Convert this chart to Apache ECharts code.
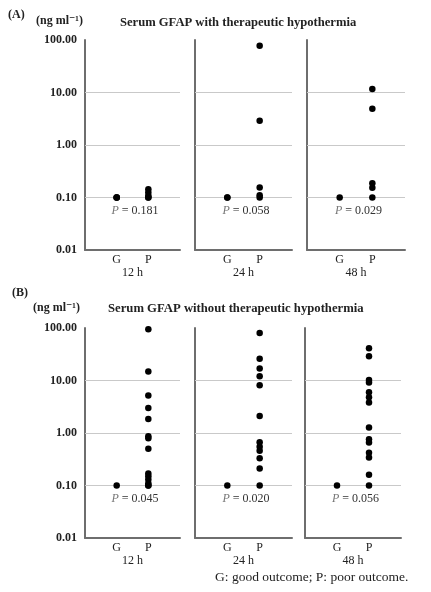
<!DOCTYPE html>
<html>
<head>
<meta charset="utf-8">
<script src="https://cdn.jsdelivr.net/npm/echarts@6/dist/echarts.min.js"></script>
<style>
  html, body { margin: 0; padding: 0; background: #fff; }
  #main { width: 431px; height: 592px; }
</style>
</head>
<body>
<div id="main"></div>
<script>
var dom = document.getElementById("main");
var myChart = echarts.init(dom);

// data
var groups = ['G', 'P'];
var times = ['12 h', '24 h', '48 h'];
var yTicks = [0.01, 0.1, 1, 10, 100];
var gridValues = [0.1, 1, 10];

// (A) with therapeutic hypothermia
var a12G = [0.1, 0.1, 0.1];
var a12P = [0.1, 0.1, 0.108, 0.125, 0.144];
var a24G = [0.1, 0.1];
var a24P = [78, 2.9, 0.155, 0.11, 0.1];
var a48G = [0.1];
var a48P = [11.7, 4.9, 0.186, 0.154, 0.1];
var pA = ['0.181', '0.058', '0.029'];

// (B) without therapeutic hypothermia
var b12G = [0.1];
var b12P = [95, 14.8, 5.2, 3.0, 1.84, 0.87, 0.79, 0.5, 0.17, 0.15, 0.13, 0.11, 0.1, 0.1];
var b24G = [0.1];
var b24P = [80, 26, 17, 12, 8.1, 2.1, 0.67, 0.55, 0.46, 0.33, 0.21, 0.1];
var b48G = [0.1];
var b48P = [41, 29, 10.2, 9.2, 6.0, 4.8, 3.8, 1.27, 0.76, 0.66, 0.42, 0.34, 0.16, 0.1];
var pB = ['0.045', '0.020', '0.056'];

var panels = [
    {g: a12G, p: a12P, left: 85, width: 95, top: 40, pv: pA[0], t: times[0]},
    {g: a24G, p: a24P, left: 195, width: 97, top: 40, pv: pA[1], t: times[1]},
    {g: a48G, p: a48P, left: 307, width: 98, top: 40, pv: pA[2], t: times[2]},
    {g: b12G, p: b12P, left: 85, width: 95, top: 328, pv: pB[0], t: times[0]},
    {g: b24G, p: b24P, left: 195, width: 97, top: 328, pv: pB[1], t: times[1]},
    {g: b48G, p: b48P, left: 305, width: 96, top: 328, pv: pB[2], t: times[2]}
];
var panelHeight = 210;
var serif = '"Liberation Serif", "DejaVu Serif", serif';

var grids = [], xAxes = [], yAxes = [], series = [], graphics = [];

panels.forEach(function (pn, i) {
    grids.push({left: pn.left, top: pn.top, width: pn.width, height: panelHeight});
    xAxes.push({
        type: 'value', gridIndex: i, min: 0, max: 3, interval: 1,
        axisLine: {show: true, onZero: false, lineStyle: {color: '#6e6e6e', width: 2}},
        axisTick: {show: false},
        splitLine: {show: false},
        axisLabel: {
            margin: 4, color: '#222', fontFamily: serif, fontSize: 12,
            formatter: function (v) { return groups[v - 1] || ''; }
        },
        name: pn.t, nameLocation: 'middle', nameGap: 17,
        nameTextStyle: {color: '#222', fontFamily: serif, fontSize: 12}
    });
    yAxes.push({
        type: 'log', logBase: 10, gridIndex: i, min: yTicks[0], max: yTicks[yTicks.length - 1],
        axisLine: {show: true, lineStyle: {color: '#6e6e6e', width: 2}},
        axisTick: {show: false},
        splitLine: {show: false},
        axisLabel: {
            show: i % 3 === 0, margin: 8, color: '#222', fontFamily: serif,
            fontSize: 12, fontWeight: 'bold',
            formatter: function (v) { return Number(v).toFixed(2); }
        }
    });
    // grey reference lines kept under the dots
    series.push({
        type: 'line', xAxisIndex: i, yAxisIndex: i, data: [], z: 1,
        markLine: {
            silent: true, symbol: 'none', label: {show: false},
            lineStyle: {color: '#c9c9c9', width: 1, type: 'solid'},
            data: gridValues.map(function (v) { return {yAxis: v}; })
        }
    });
    var data = [];
    pn.g.forEach(function (v) { data.push([1, v]); });
    pn.p.forEach(function (v) { data.push([2, v]); });
    series.push({
        type: 'scatter', xAxisIndex: i, yAxisIndex: i, data: data,
        symbol: 'circle', symbolSize: 6.5, itemStyle: {color: '#000', opacity: 1},
        z: 5
    });
    graphics.push({
        type: 'text',
        left: pn.left + pn.width / 2 - 21,
        top: pn.top + 165,
        style: {
            text: '{i|P} = ' + pn.pv,
            fill: '#333', font: '12px ' + serif,
            rich: {i: {fontStyle: 'italic', fill: '#777', fontFamily: serif, fontSize: 12}}
        }
    });
});

function label(txt, x, y, opts) {
    opts = opts || {};
    graphics.push({
        type: 'text', left: x, top: y,
        style: {
            text: txt, fill: '#222',
            font: (opts.weight || 'bold') + ' ' + (opts.size || 12) + 'px ' + serif
        }
    });
}

label('(A)', 8, 9);
label('(ng ml⁻¹)', 36, 15);
label('Serum GFAP with therapeutic hypothermia', 120, 16, {size: 12.6});
label('(B)', 12, 287);
label('(ng ml⁻¹)', 33, 302);
label('Serum GFAP without therapeutic hypothermia', 108, 302, {size: 12.7});
label('G: good outcome; P: poor outcome.', 215, 570, {weight: 'normal', size: 13.5});

option = {
    backgroundColor: '#fff',
    animation: false,
    grid: grids,
    xAxis: xAxes,
    yAxis: yAxes,
    series: series,
    graphic: graphics
};
myChart.setOption(option, true);
</script>
</body>
</html>
